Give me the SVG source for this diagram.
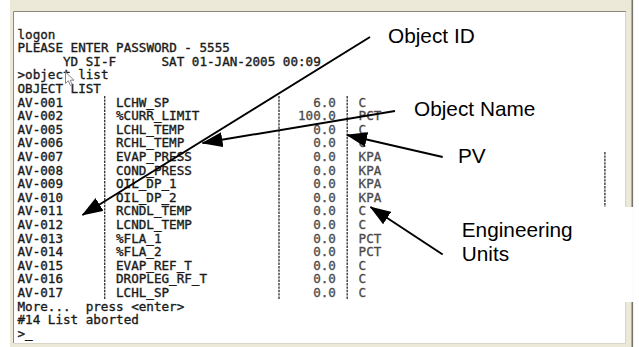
<svg xmlns="http://www.w3.org/2000/svg" width="639" height="347" viewBox="0 0 639 347">
<style>
.term{font-family:"DejaVu Sans Mono","Liberation Mono",monospace;font-size:12.6px;fill:#1a1a1a;stroke:#1a1a1a;stroke-width:0.35}
.term2{font-family:"DejaVu Sans Mono","Liberation Mono",monospace;font-size:12.6px;fill:#4a4a4a;stroke:#4a4a4a;stroke-width:0.3}
.bar{stroke:#3a3a3a;stroke-width:1.4;stroke-dasharray:2.4 1}
.lbl{font-family:"Liberation Sans",Arial,sans-serif;font-size:20.8px;fill:#000}
.arrow{stroke:#000;stroke-width:2;fill:none;marker-end:url(#ah)}
</style>
<defs>
<marker id="ah" markerUnits="userSpaceOnUse" markerWidth="21" markerHeight="15" viewBox="0 0 21 15" refX="20" refY="7.5" orient="auto">
<path d="M0,0 L21,7.5 L0,15 z" fill="#000"/>
</marker>
</defs>
<rect width="639" height="347" fill="#fff"/>
<g id="window">
<rect x="10" y="0" width="623" height="347" fill="#ece9d8"/>
<rect x="14" y="12" width="611" height="331" fill="#fff"/>
<path d="M13.5,343 V11.5 H626" stroke="#8a877b" stroke-width="1" fill="none"/>
<path d="M625.5,12 V343.5 H14" stroke="#d9d5c6" stroke-width="1" fill="none"/>
<line x1="632.3" y1="0" x2="632.3" y2="347" stroke="#76736a" stroke-width="1.6"/>
</g>
<g id="terminal">
<text class="term"><tspan x="17.5" y="38.6">logon</tspan><tspan x="17.5" y="52.2">PLEASE ENTER PASSWORD - 5555</tspan><tspan x="63" y="65.8">YD SI-F</tspan><tspan x="161.5" y="65.8">SAT 01-JAN-2005 00:09</tspan><tspan x="17.5" y="79.4">&gt;object list</tspan><tspan x="17.5" y="93">OBJECT LIST</tspan></text>
<text class="term"><tspan x="17.5" y="106.6">AV-001</tspan><tspan x="17.5" y="120.2">AV-002</tspan><tspan x="17.5" y="133.8">AV-005</tspan><tspan x="17.5" y="147.4">AV-006</tspan><tspan x="17.5" y="161">AV-007</tspan><tspan x="17.5" y="174.6">AV-008</tspan><tspan x="17.5" y="188.2">AV-009</tspan><tspan x="17.5" y="201.8">AV-010</tspan><tspan x="17.5" y="215.4">AV-011</tspan><tspan x="17.5" y="229">AV-012</tspan><tspan x="17.5" y="242.6">AV-013</tspan><tspan x="17.5" y="256.2">AV-014</tspan><tspan x="17.5" y="269.8">AV-015</tspan><tspan x="17.5" y="283.4">AV-016</tspan><tspan x="17.5" y="297">AV-017</tspan></text>
<text class="term"><tspan x="116" y="106.6">LCHW_SP</tspan><tspan x="116" y="120.2">%CURR_LIMIT</tspan><tspan x="116" y="133.8">LCHL_TEMP</tspan><tspan x="116" y="147.4">RCHL_TEMP</tspan><tspan x="116" y="161">EVAP_PRESS</tspan><tspan x="116" y="174.6">COND_PRESS</tspan><tspan x="116" y="188.2">OIL_DP_1</tspan><tspan x="116" y="201.8">OIL_DP_2</tspan><tspan x="116" y="215.4">RCNDL_TEMP</tspan><tspan x="116" y="229">LCNDL_TEMP</tspan><tspan x="116" y="242.6">%FLA_1</tspan><tspan x="116" y="256.2">%FLA_2</tspan><tspan x="116" y="269.8">EVAP_REF_T</tspan><tspan x="116" y="283.4">DROPLEG_RF_T</tspan><tspan x="116" y="297">LCHL_SP</tspan></text>
<text class="term2" text-anchor="end"><tspan x="335.9" y="106.6">6.0</tspan><tspan x="335.9" y="120.2">100.0</tspan><tspan x="335.9" y="133.8">0.0</tspan><tspan x="335.9" y="147.4">0.0</tspan><tspan x="335.9" y="161">0.0</tspan><tspan x="335.9" y="174.6">0.0</tspan><tspan x="335.9" y="188.2">0.0</tspan><tspan x="335.9" y="201.8">0.0</tspan><tspan x="335.9" y="215.4">0.0</tspan><tspan x="335.9" y="229">0.0</tspan><tspan x="335.9" y="242.6">0.0</tspan><tspan x="335.9" y="256.2">0.0</tspan><tspan x="335.9" y="269.8">0.0</tspan><tspan x="335.9" y="283.4">0.0</tspan><tspan x="335.9" y="297">0.0</tspan></text>
<text class="term2"><tspan x="358.6" y="106.6">C</tspan><tspan x="358.6" y="120.2">PCT</tspan><tspan x="358.6" y="133.8">C</tspan><tspan x="358.6" y="147.4">C</tspan><tspan x="358.6" y="161">KPA</tspan><tspan x="358.6" y="174.6">KPA</tspan><tspan x="358.6" y="188.2">KPA</tspan><tspan x="358.6" y="201.8">KPA</tspan><tspan x="358.6" y="215.4">C</tspan><tspan x="358.6" y="229">C</tspan><tspan x="358.6" y="242.6">PCT</tspan><tspan x="358.6" y="256.2">PCT</tspan><tspan x="358.6" y="269.8">C</tspan><tspan x="358.6" y="283.4">C</tspan><tspan x="358.6" y="297">C</tspan></text>
<text class="term"><tspan x="17.5" y="310.6">More...</tspan><tspan x="85.7" y="310.6">press &lt;enter&gt;</tspan><tspan x="17.5" y="324.2">#14 List aborted</tspan><tspan x="17.5" y="337.8">&gt;_</tspan></text>
<line class="bar" x1="104.7" y1="96" x2="104.7" y2="299"/>
<line class="bar" x1="279" y1="96" x2="279" y2="299"/>
<line class="bar" x1="347.2" y1="96" x2="347.2" y2="299"/>
<line class="bar" x1="604.9" y1="152" x2="604.9" y2="207"/>
<path d="M65.5,72 L65.5,83.5 L68.3,80.8 L70.4,85.5 L72.2,84.7 L70.2,80.2 L74,80.2 Z" fill="#fff" stroke="#7a7a7a" stroke-width="0.9"/>
</g>
<g id="label-engineering-units">
<rect x="455" y="207" width="178.6" height="95" fill="#fff"/>
<text class="lbl"><tspan x="461.7" y="236.7">Engineering</tspan><tspan x="461.7" y="260.7">Units</tspan></text>
</g>
<g id="label-object-id"><text class="lbl" x="388" y="43.3">Object ID</text></g>
<g id="label-object-name"><text class="lbl" x="414" y="116">Object Name</text></g>
<g id="label-pv"><text class="lbl" x="458" y="163.3">PV</text></g>
<g id="connectors">
<line class="arrow" x1="370" y1="37" x2="82.5" y2="215"/>
<line class="arrow" x1="395" y1="111" x2="202.5" y2="143"/>
<line class="arrow" x1="442.7" y1="157" x2="347" y2="135"/>
<line class="arrow" x1="442.7" y1="254.5" x2="370.5" y2="207"/>
</g>
</svg>
